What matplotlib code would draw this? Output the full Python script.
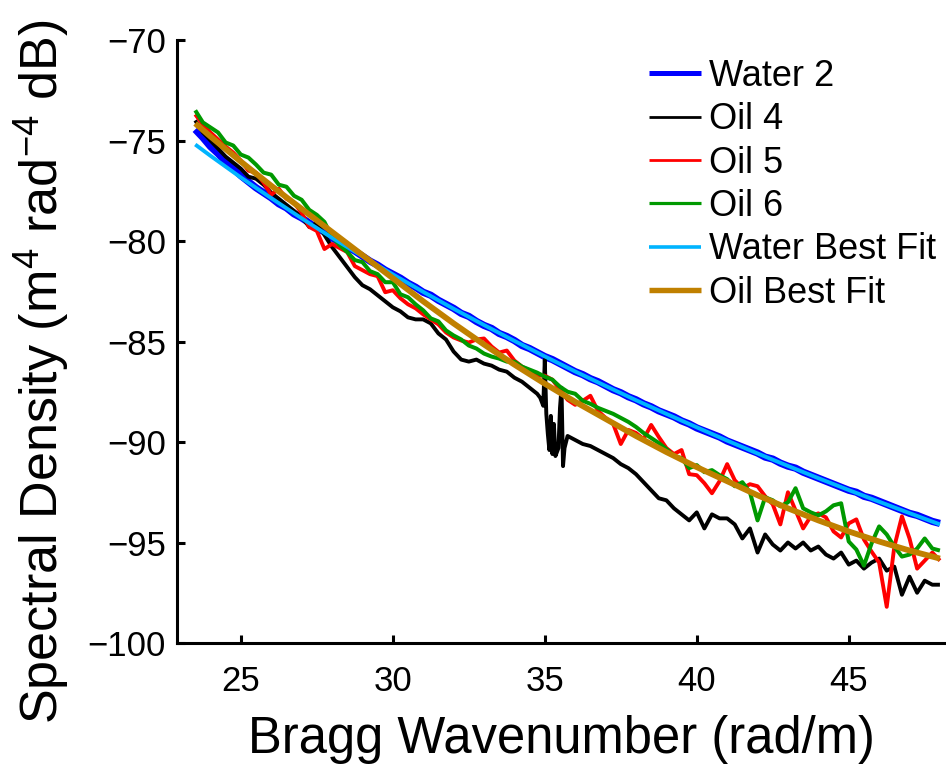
import numpy as np
import matplotlib
matplotlib.use('Agg')
import matplotlib.pyplot as plt

plt.rcParams['font.family'] = ['Liberation Sans', 'DejaVu Sans']
plt.rcParams['mathtext.fontset'] = 'custom'
plt.rcParams['mathtext.rm'] = 'Liberation Sans'
plt.rcParams['mathtext.it'] = 'Liberation Sans:italic'
plt.rcParams['mathtext.bf'] = 'Liberation Sans:bold'

# ---------------- data ----------------
# measured spectra are sampled on a common wavenumber grid (rad/m)
k_start, k_stop, k_step = 23.5, 48.0, 0.25

water2_db = [
    -74.45, -74.85,
    -75.3, -75.65, -76.05, -76.4,
    -76.75, -77.05, -77.35, -77.6,
    -77.85, -78.15, -78.35, -78.65,
    -78.85, -79.1, -79.35, -79.55,
    -79.85, -80.05, -80.3, -80.5,
    -80.75, -81.0, -81.2, -81.45,
    -81.65, -81.85, -82.1, -82.3,
    -82.55, -82.7, -82.95, -83.15,
    -83.35, -83.6, -83.75, -84.0,
    -84.2, -84.35, -84.6, -84.75,
    -84.95, -85.2, -85.35, -85.55,
    -85.75, -85.9, -86.1, -86.3,
    -86.5, -86.65, -86.85, -87.0,
    -87.2, -87.4, -87.55, -87.75,
    -87.9, -88.1, -88.25, -88.45,
    -88.6, -88.75, -88.95, -89.1,
    -89.3, -89.45, -89.6, -89.75,
    -89.95, -90.1, -90.25, -90.4,
    -90.55, -90.75, -90.85, -91.05,
    -91.2, -91.3, -91.5, -91.65,
    -91.8, -91.95, -92.1, -92.25,
    -92.4, -92.5, -92.7, -92.8,
    -92.95, -93.1, -93.25, -93.4,
    -93.55, -93.65, -93.8, -93.95,
    -94.05,
]

oil4_db = [
    -74.0, -74.6,
    -75.0, -75.4, -75.8, -76.1,
    -76.4, -76.8, -76.9, -77.2,
    -77.6, -77.9, -78.2, -78.5,
    -78.8, -79.3, -79.1, -79.7,
    -80.3, -80.8, -81.3, -81.8,
    -82.2, -82.4, -82.7, -83.0,
    -83.3, -83.5, -83.8, -83.9,
    -83.9, -84.1, -84.6, -84.9,
    -85.5, -85.9, -86.0, -85.9,
    -86.1, -86.2, -86.4, -86.5,
    -86.8, -87.0, -87.3, -87.6,
    -86.0, -90.2, -89.6, -89.7,
    -89.9, -90.1, -90.2, -90.4,
    -90.6, -90.8, -91.1, -91.3,
    -91.6, -92.0, -92.4, -92.8,
    -92.9, -93.3, -93.6, -93.9,
    -93.5, -94.3, -93.6, -93.8,
    -93.8, -94.1, -94.8, -94.3,
    -95.5, -94.6, -95.1, -95.4,
    -95.0, -95.3, -95.0, -95.4,
    -95.2, -95.6, -95.8, -95.5,
    -96.1, -95.9, -96.3, -96.0,
    -95.8, -96.4, -96.2, -97.6,
    -96.7, -97.5, -96.9, -97.1,
    -97.1,
]
# finer samples of the sharp oscillation of Oil 4 near 35 rad/m
oil4_spike_k = [34.85, 34.95, 35.0, 35.05, 35.1, 35.15, 35.2, 35.25, 35.3,
                35.35, 35.45, 35.5, 35.55, 35.6, 35.65, 35.75]
oil4_spike_db = [-87.8, -88.2, -85.9, -88.6, -89.6, -90.4, -88.7, -90.6, -89.1,
                 -90.7, -90.3, -88.3, -87.3, -91.2, -90.3, -89.7]

oil5_db = [
    -73.7, -74.2,
    -74.6, -74.95, -75.3, -75.6,
    -76.0, -76.5, -76.6, -77.1,
    -77.7, -77.4, -77.9, -78.1,
    -78.6, -79.3, -79.5, -80.4,
    -80.15, -80.35, -80.55, -81.25,
    -81.45, -81.65, -81.75, -82.55,
    -82.45, -82.85, -83.15, -83.35,
    -83.65, -83.9, -84.15, -84.55,
    -84.8, -84.95, -85.05, -84.9,
    -84.85, -85.25, -85.55, -85.45,
    -85.95, -86.25, -86.45, -86.7,
    -86.7, -86.9, -87.4, -87.9,
    -88.15, -87.95, -87.7, -88.45,
    -88.8, -89.1, -90.1, -89.4,
    -89.55, -89.85, -89.15, -89.75,
    -90.3, -90.6, -90.4, -91.6,
    -91.65, -92.05, -92.55, -91.95,
    -91.1, -91.9, -92.3, -92.1,
    -92.2, -92.7, -93.1, -94.1,
    -92.5, -93.4, -94.3, -93.7,
    -93.55, -93.75, -94.45, -94.75,
    -94.05, -93.85, -94.85, -95.45,
    -96.0, -98.2, -95.2, -93.7,
    -94.8, -96.3, -95.9, -95.5,
    -95.9,
]

oil6_db = [
    -73.5, -74.1,
    -74.35, -74.6, -75.1, -75.25,
    -75.7, -75.85, -76.2, -76.6,
    -76.7, -77.2, -77.3, -77.75,
    -77.95, -78.45, -78.7, -79.05,
    -79.8, -80.2, -80.55, -80.95,
    -81.05, -81.5, -81.65, -82.05,
    -82.05, -82.65, -82.8, -83.15,
    -83.45, -83.85, -84.0, -84.45,
    -84.7, -84.9, -85.2, -85.35,
    -85.6, -85.75, -85.85, -86.0,
    -86.0, -86.25, -86.4, -86.55,
    -86.75, -86.9, -87.25, -87.5,
    -87.6, -87.95, -88.1, -88.3,
    -88.45, -88.6, -88.8, -89.0,
    -89.25, -89.55, -89.8, -90.05,
    -90.35, -90.7, -90.8, -91.3,
    -91.15, -91.5, -91.4, -91.65,
    -91.85, -92.2, -92.0, -92.5,
    -93.9, -92.75, -92.9, -93.2,
    -93.0, -92.3, -93.3, -93.5,
    -93.65, -93.45, -93.15, -93.05,
    -94.95, -95.35, -96.15, -95.05,
    -94.2, -94.6, -95.2, -95.7,
    -95.6, -95.3, -94.8, -95.3,
    -95.4,
]

fit_k = [23.5, 24, 25, 26, 27, 28, 29, 30, 31, 32, 33, 34, 35, 36, 37, 38,
         39, 40, 41, 42, 43, 44, 45, 46, 47, 48]
water_fit_db = [-75.20, -75.76, -76.84, -77.87, -78.87, -79.84, -80.76, -81.66,
                -82.53, -83.37, -84.18, -84.97, -85.74, -86.49, -87.21, -87.92,
                -88.60, -89.27, -89.93, -90.57, -91.19, -91.80, -92.39, -92.97,
                -93.54, -94.10]
oil_fit_db = [-74.15, -74.8, -76.05, -77.25, -78.4, -79.55, -80.7, -81.85,
              -83.0, -84.1, -85.15, -86.15, -87.1, -88.0, -88.85, -89.7,
              -90.5, -91.25, -91.95, -92.65, -93.3, -93.9, -94.45, -94.95,
              -95.4, -95.8]

series_labels = ['Water 2', 'Oil 4', 'Oil 5', 'Oil 6', 'Water Best Fit', 'Oil Best Fit']
x_ticks = [25, 30, 35, 40, 45]
y_ticks = [-100, -95, -90, -85, -80, -75, -70]

# ---------------- build ----------------
k = np.round(np.arange(k_start, k_stop + k_step / 2, k_step), 3)
keep = (k < min(oil4_spike_k)) | (k > max(oil4_spike_k))
oil4_k_all = np.concatenate([k[keep], oil4_spike_k])
oil4_db_all = np.concatenate([np.asarray(oil4_db)[keep], oil4_spike_db])
order = np.argsort(oil4_k_all)
oil4_k_all, oil4_db_all = oil4_k_all[order], oil4_db_all[order]

W, H = 946, 765
fig = plt.figure(figsize=(W / 100, H / 100), dpi=100)
ax = fig.add_axes([177 / W, 122 / H, 1 - 177 / W, 603 / H])

styles = [
    dict(color='#0000ff', lw=5.2),
    dict(color='#000000', lw=2.8),
    dict(color='#ff0000', lw=2.8),
    dict(color='#009900', lw=2.9),
    dict(color='#00b4ff', lw=2.8),
    dict(color='#c08000', lw=4.2),
]
legend_lw = [3.6, 2.0, 2.0, 2.3, 2.6, 3.9]

lines = []
lines += ax.plot(k, water2_db, label=series_labels[0], **styles[0])
lines += ax.plot(oil4_k_all, oil4_db_all, label=series_labels[1], **styles[1])
lines += ax.plot(k, oil5_db, label=series_labels[2], **styles[2])
lines += ax.plot(k, oil6_db, label=series_labels[3], **styles[3])
lines += ax.plot(fit_k, water_fit_db, label=series_labels[4], **styles[4])
lines += ax.plot(fit_k, oil_fit_db, label=series_labels[5], **styles[5])
for ln in lines:
    ln.set_solid_joinstyle('round')
    ln.set_solid_capstyle('butt')

ax.set_xlim(22.9, 48.2)
ax.set_ylim(-100, -70)
ax.set_xticks(x_ticks)
ax.set_yticks(y_ticks)
ax.set_xticklabels([str(t) for t in x_ticks])
ax.set_yticklabels(['\u2212' + str(abs(t)) for t in y_ticks])

for side in ['top', 'right']:
    ax.spines[side].set_visible(False)
for side in ['left', 'bottom']:
    ax.spines[side].set_linewidth(2.2)
ax.tick_params(direction='in', length=6, width=2.2, labelsize=25,
               top=False, right=False)
ax.tick_params(axis='x', pad=16)
ax.tick_params(axis='y', pad=8)

ax.set_xlabel('Bragg Wavenumber (rad/m)', fontsize=36.5, labelpad=12)
ax.set_ylabel('Spectral Density (m$^{4}$ rad$^{-4}$ dB)', fontsize=37.5)
ax.yaxis.set_label_coords((72 - 177) / (W - 177), (643 - 372) / 603)

leg = ax.legend(loc='upper left', bbox_to_anchor=(649 / W, 1 - 59 / H),
                bbox_transform=fig.transFigure, frameon=False, fontsize=26,
                handlelength=1.45, handletextpad=0.2, labelspacing=0.23,
                borderpad=0, borderaxespad=0)
for hl, w in zip(leg.get_lines(), legend_lw):
    hl.set_linewidth(w)

fig.savefig('out.png', dpi=100)
